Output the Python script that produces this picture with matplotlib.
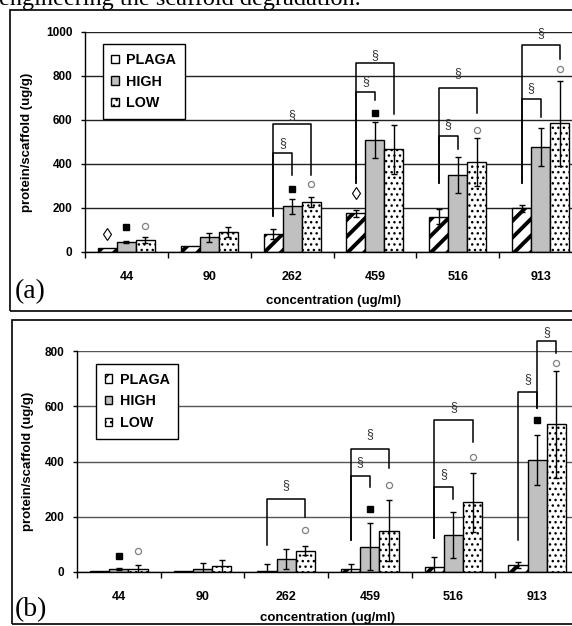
import matplotlib
matplotlib.use("Agg")
import matplotlib.pyplot as plt
from matplotlib.patches import Rectangle
import numpy as np

# ---- data ----
conc = ["44", "90", "262", "459", "516", "913"]
series = ["PLAGA", "HIGH", "LOW"]

# panel (a)
a_plaga = [17, 29, 80, 176, 160, 198]
a_plaga_err = [0, 0, 23, 17, 34, 15]
a_high = [44, 67, 209, 509, 350, 476]
a_high_err = [5, 20, 34, 83, 83, 87]
a_low = [55, 92, 229, 467, 410, 585]
a_low_err = [15, 23, 23, 112, 109, 192]

# panel (b)
b_plaga = [2, 3, 3, 10, 19, 25]
b_plaga_err = [0, 0, 26, 19, 34, 12]
b_high = [10, 11, 46, 92, 134, 405]
b_high_err = [3, 20, 36, 84, 82, 90]
b_low = [12, 21, 77, 150, 252, 535]
b_low_err = [15, 22, 17, 110, 108, 193]

# significance markers (group, height)
a_diamond = [(0, 82), (3, 270)]
a_square = [(0, 115), (2, 286), (3, 633)]
a_circle = [(0, 120), (2, 309), (4, 555), (5, 832)]
b_square = [(0, 58), (3, 228), (5, 550)]
b_circle = [(0, 76), (2, 152), (3, 315), (4, 416), (5, 755)]

# brackets: group, left bar, right bar, top, left leg end, right leg end, sign height
a_brackets = [
    (2, 0, 1, 452, 163, 348, 496), (2, 0, 2, 580, 163, 348, 622),
    (3, 0, 1, 729, 312, 691, 777), (3, 0, 2, 857, 312, 627, 895),
    (4, 0, 1, 529, 312, 468, 582), (4, 0, 2, 744, 312, 630, 812),
    (5, 0, 1, 695, 312, 615, 744), (5, 0, 2, 941, 312, 876, 994),
]
b_brackets = [
    (2, 0, 2, 264, 98, 200, 315),
    (3, 0, 1, 348, 116, 306, 397), (3, 0, 2, 447, 116, 375, 498),
    (4, 0, 1, 306, 122, 264, 354), (4, 0, 2, 552, 122, 471, 598),
    (5, 0, 1, 652, 116, 592, 697), (5, 1, 2, 837, 592, 791, 869),
]

W, H = 572, 626
plt.rcParams['font.family'] = ['Liberation Sans', 'DejaVu Sans']
fig = plt.figure(figsize=(W / 100, H / 100), dpi=100)

bw = 0.229
offs = [-bw, 0, bw]
hatches = ['//', None, '...']
colors = ['white', '#c0c0c0', 'white']
hlw = [2.8, 1.0, 1.0]


def panel(rect, vals, errs, ymax, gridc, diamonds, squares, circles, brackets,
          leg_xy, tag, tag_y, xlab_y, ylab_x):
    ax = fig.add_axes(rect)
    x = np.arange(len(conc)) + 0.5
    handles = []
    for k in range(3):
        plt.rcParams['hatch.linewidth'] = hlw[k]
        bars = ax.bar(x + offs[k], vals[k], bw, color=colors[k], edgecolor='black',
                      linewidth=1.0, hatch=hatches[k], label=series[k], zorder=2)
        for b in bars:
            if hasattr(b, 'set_hatch_linewidth'):
                b.set_hatch_linewidth(hlw[k])
        handles.append(bars)
        e = np.array(errs[k], dtype=float)
        m = e > 0
        ax.errorbar((x + offs[k])[m], np.array(vals[k])[m], yerr=e[m], fmt='none',
                    ecolor='black', elinewidth=1, capsize=2.5, capthick=1, zorder=3)
    for g, y in diamonds:
        ax.plot(x[g] + offs[0], y, marker='d', ms=6, mfc='white', mec='black', mew=0.8, zorder=4)
    for g, y in squares:
        ax.plot(x[g] + offs[1], y, marker='s', ms=4.2, mfc='black', mec='black', zorder=4)
    for g, y in circles:
        ax.plot(x[g] + offs[2], y, marker='o', ms=4.4, mfc='white', mec='#808080', mew=0.9, zorder=4)
    for g, l, r, top, lb, rb, sy in brackets:
        xl, xr = x[g] + offs[l], x[g] + offs[r]
        ax.plot([xl, xl, xr, xr], [lb, top, top, rb], color='black', lw=1.1,
                clip_on=False, zorder=4)
        ax.text((xl + xr) / 2, sy, '§', ha='center', va='center', fontsize=9,
                color='#333333', clip_on=False, zorder=4)

    ax.set_xlim(0, len(conc))
    ax.set_ylim(0, ymax)
    ax.set_xticks(np.arange(len(conc) + 1))
    ax.set_xticklabels([])
    ax.set_xticks(x, minor=True)
    ax.set_xticklabels(conc, minor=True, fontweight='bold', fontsize=9)
    ax.tick_params(axis='x', which='major', direction='out', length=4, width=1)
    ax.tick_params(axis='x', which='minor', length=0, pad=14)
    ax.set_yticks(np.arange(0, ymax + 1, 200))
    ax.set_yticklabels([str(v) for v in range(0, ymax + 1, 200)], fontweight='bold', fontsize=8.5)
    ax.tick_params(axis='y', direction='out', length=3, width=1, pad=6)
    ax.yaxis.grid(True, color=gridc, lw=1)
    ax.set_axisbelow(True)
    for s in ['top', 'right']:
        ax.spines[s].set_visible(False)
    for s in ['left', 'bottom']:
        ax.spines[s].set_linewidth(1)
        ax.spines[s].set_zorder(5)

    ax.set_xlabel('concentration (ug/ml)', fontweight='bold', fontsize=9.5)
    ax.xaxis.set_label_coords(0.5, xlab_y)
    ax.set_ylabel('protein/scaffold (ug/g)', fontweight='bold', fontsize=9.5)
    ax.yaxis.set_label_coords(ylab_x, 0.5)

    leg = ax.legend(handles=handles, loc='upper left', bbox_to_anchor=leg_xy,
                    prop={'weight': 'bold', 'size': 10.3},
                    handlelength=0.5, handleheight=0.5, handletextpad=0.55,
                    labelspacing=0.55, borderpad=0.6, borderaxespad=0,
                    fancybox=False, framealpha=1, edgecolor='black')
    leg.get_frame().set_linewidth(1)
    leg.set_zorder(6)

    fig.text(15 / W, 1 - tag_y / H, tag, family='Liberation Serif', fontsize=20,
             ha='left', va='center')
    return ax


ax_a = panel([85 / W, 1 - 252 / H, (582 - 85) / W, 220 / H],
             [a_plaga, a_high, a_low], [a_plaga_err, a_high_err, a_low_err],
             1000, '#222222', a_diamond, a_square, a_circle, a_brackets,
             (0.036, 0.945), '(a)', 292, -0.195, -0.105)
ax_b = panel([77 / W, 1 - 572 / H, (579 - 77) / W, 221 / H],
             [b_plaga, b_high, b_low], [b_plaga_err, b_high_err, b_low_err],
             800, '#555555', [], b_square, b_circle, b_brackets,
             (0.038, 0.941), '(b)', 610, -0.181, -0.086)

# panel frames
fig.add_artist(Rectangle((10 / W, 1 - 311 / H), 600 / W, 301 / H, transform=fig.transFigure,
                         fill=False, edgecolor='black', lw=1.2))
fig.add_artist(Rectangle((12 / W, 1 - 624 / H), 600 / W, 304 / H, transform=fig.transFigure,
                         fill=False, edgecolor='black', lw=1.2))

# caption text cut off at the top of the page
fig.text(361 / W, 1 - 5 / H, 'engineering the scaffold degradation.',
         family='Liberation Serif', fontsize=17.5, ha='right', va='baseline')

fig.savefig('out.png', dpi=100)
